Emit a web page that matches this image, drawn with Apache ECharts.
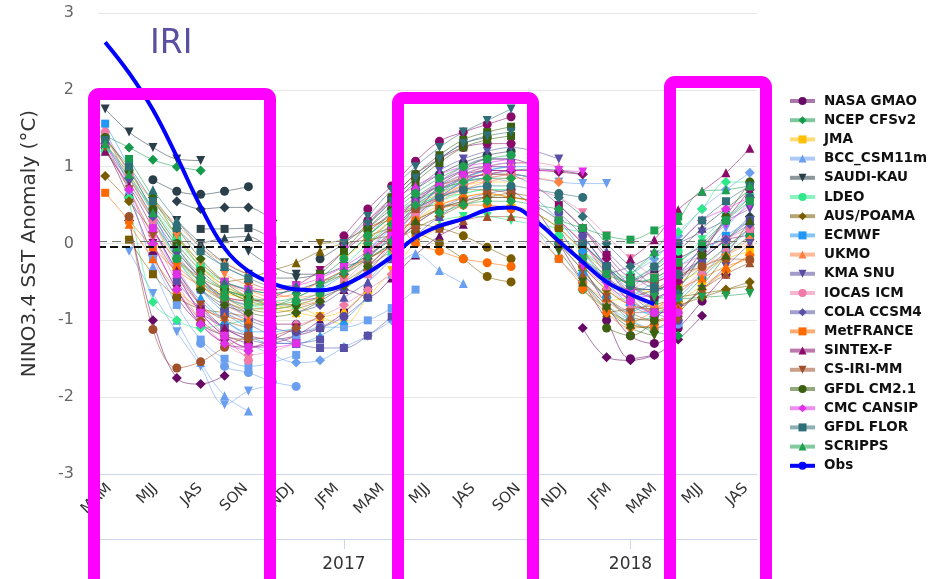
<!DOCTYPE html>
<html>
<head>
<meta charset="utf-8">
<script src="https://cdn.jsdelivr.net/npm/echarts@6/dist/echarts.min.js"></script>
<style>
  html, body { margin: 0; padding: 0; background: #ffffff; }
  #chart { width: 948px; height: 579px; }
</style>
</head>
<body>
<div id="chart"></div>
<script>
// Season labels along the bottom (one per month, every other one printed)
const SEASONS = ['MAM','AMJ','MJJ','JJA','JAS','ASO','SON','OND','NDJ','DJF','JFM','FMA',
                 'MAM','AMJ','MJJ','JJA','JAS','ASO','SON','OND','NDJ','DJF','JFM','FMA',
                 'MAM','AMJ','MJJ','JJA','JAS'];
// Year markers, placed on the monthly forecast columns
const YEAR_TICKS = [10, 22];
const YEAR_LABELS = ['2017', '2018'];
// Reference lines near zero
const REF_LINES = [0.03, -0.04];

// Observed Nino3.4 anomaly, one value per monthly column
const OBS = [2.62, 2.22, 1.74, 1.13, 0.48, -0.06, -0.36, -0.52, -0.60, -0.61, -0.54, -0.38,
             -0.17, 0.08, 0.23, 0.32, 0.44, 0.47, 0.30, 0.03, -0.24, -0.50, -0.66, -0.79];

// Model forecast runs: [first column, value, value, ...]
const NASA_GMAO = [
  [0, 1.25, 0.6, -0.15, -0.7, -1.05, -1.2, -1.3],
  [1, 0.3, -1.0, -1.75, -1.83, -1.72],
  [4, -0.9, -1.1, -1.2, -1.25, -1.2, -1.1, -0.9, -0.6],
  [8, -0.75, -0.7, -0.6, -0.69, -0.45, -0.15, 0.1, 0.25],
  [12, 0.1, 0.4, 0.75, 0.95, 1.1, 1.1, 1.0],
  [17, 0.7, 0.45, 0.0, -0.5, -1.0, -1.5, -1.45],
  [20, -1.1, -1.48, -1.52, -1.45, -1.25, -0.94],
  [23, -0.4, -0.2, -0.05, 0.05, 0.11],
  [3, -0.4, -0.9, -1.2, -1.35, -1.3, -1.2, -1.0],
  [11, -0.3, 0.0, 0.35, 0.6, 0.8, 0.9, 0.9, 0.85],
  [19, 0.2, -0.3, -0.8, -1.2, -1.3, -1.1, -0.75, -0.4]
];
const NCEP_CFSV2 = [
  [0, 1.4, 1.25, 1.09, 1.0, 0.95],
  [1, 1.1, 0.6, 0.1, -0.3, -0.55, -0.7, -0.8],
  [5, -0.6, -0.75, -0.8, -0.7, -0.55, -0.35, -0.15, 0.05],
  [9, -0.45, -0.2, 0.1, 0.35, 0.55, 0.7, 0.8, 0.85],
  [13, 0.45, 0.65, 0.8, 0.9, 0.9, 0.85],
  [18, 0.3, 0.0, -0.35, -0.7, -1.0, -1.15, -1.2],
  [22, -0.9, -0.75, -0.55, -0.3, -0.05, 0.2],
  [2, 0.5, 0.1, -0.25, -0.5, -0.6, -0.65, -0.6],
  [11, 0.1, 0.35, 0.6, 0.8, 0.95, 1.0, 1.0],
  [20, -0.6, -0.85, -1.0, -0.95, -0.75, -0.45, -0.15, 0.1]
];
const JMA = [
  [0, 1.4, 0.85, 0.3, -0.2, -0.5, -0.65, -0.7],
  [4, -0.3, -0.6, -0.75, -0.85, -0.9, -0.95, -0.87, -0.6],
  [8, -0.8, -0.95, -1.05, -0.7, -0.35, 0.0, 0.2, 0.3],
  [12, 0.0, 0.3, 0.5, 0.6, 0.65, 0.6, 0.55],
  [17, 0.5, 0.4, 0.2, -0.1, -0.35, -0.55, -0.65],
  [21, -0.75, -0.7, -0.6, -0.5, -0.35, -0.2, -0.1],
  [2, 0.6, 0.1, -0.3, -0.55, -0.7, -0.8, -0.85],
  [10, -0.2, 0.05, 0.3, 0.5, 0.65, 0.75, 0.8, 0.8],
  [20, -0.3, -0.6, -0.8, -0.85, -0.75, -0.55, -0.35, -0.15]
];
const BCC_CSM11M = [
  [0, 1.5, 0.7, -0.3, -1.0, -1.55, -1.98, -2.18],
  [1, -0.1, -0.65, -1.15, -1.6, -2.1, -1.92, -1.85],
  [4, -1.3, -1.6, -1.68, -1.8, -1.86],
  [6, -1.3, -1.45, -1.55, -1.52, -1.35, -1.2, -1.0],
  [8, -1.2, -1.09, -1.09, -1.0, -0.84, -0.6],
  [12, -0.4, -0.13, -0.35, -0.52],
  [14, 0.6, 0.8, 0.9, 0.9, 0.85, 0.8, 0.78, 0.78],
  [18, 0.2, -0.2, -0.5, -0.8, -1.0, -1.1, -1.05],
  [21, -0.6, -0.4, -0.2, 0.1, 0.45, 0.7, 0.92],
  [2, -0.2, -0.8, -1.25, -1.5, -1.6, -1.55, -1.45],
  [11, -0.5, -0.1, 0.3, 0.6, 0.8, 0.85, 0.8],
  [20, 0.1, -0.3, -0.6, -0.7, -0.5, -0.2, 0.2, 0.55]
];
const SAUDI_KAU = [
  [0, 1.75, 1.45, 1.25, 1.1, 1.08],
  [2, 0.83, 0.68, 0.64, 0.68, 0.74],
  [3, 0.55, 0.45, 0.47, 0.47, 0.3],
  [4, 0.19, 0.19, 0.2, 0.05],
  [4, 0.0, 0.07, 0.09, -0.1],
  [6, -0.1, -0.3, -0.4, -0.4, -0.3, -0.2, 0.0, 0.25],
  [9, -0.2, 0.0, 0.25, 0.55, 0.85, 1.1, 1.3, 1.38],
  [13, 0.6, 0.75, 0.85, 0.9, 0.95, 0.97, 0.95, 0.9],
  [18, 0.5, 0.3, 0.0, -0.3, -0.55, -0.7],
  [22, -0.5, -0.35, -0.1, 0.2, 0.45, 0.7],
  [3, 0.3, 0.0, -0.25, -0.4, -0.45, -0.45, -0.4],
  [11, 0.2, 0.45, 0.7, 0.9, 1.05, 1.15, 1.2],
  [20, -0.2, -0.45, -0.6, -0.6, -0.45, -0.2, 0.05, 0.35]
];
const LDEO = [
  [0, 1.2, 0.85, 0.45, 0.05, -0.3, -0.5, -0.6],
  [1, 0.6, -0.76, -1.0, -1.1, -1.05, -1.0],
  [6, -0.8, -0.85, -0.8, -0.7, -0.5, -0.3, -0.1, 0.1],
  [10, -0.3, 0.0, 0.3, 0.5, 0.6, 0.65, 0.7, 0.7],
  [14, 0.3, 0.35, 0.35, 0.3, 0.25, 0.2, 0.15],
  [19, 0.1, -0.1, -0.3, -0.45, -0.3, -0.1],
  [22, -0.4, -0.15, 0.15, 0.45, 0.8, 0.8],
  [2, 0.3, -0.2, -0.55, -0.75, -0.85, -0.85, -0.8],
  [11, 0.0, 0.2, 0.4, 0.55, 0.65, 0.7, 0.7],
  [20, -0.1, -0.35, -0.5, -0.45, -0.25, 0.05, 0.35, 0.6]
];
const AUS_POAMA = [
  [0, 0.88, 0.55, 0.15, -0.2, -0.45, -0.6, -0.7],
  [1, 0.05, -0.4, -0.7, -0.85, -0.9, -0.95],
  [5, -0.5, -0.45, -0.35, -0.25, -0.1, 0.0, 0.05, 0.1],
  [9, 0.0, 0.05, 0.2, 0.35, 0.45, 0.5, 0.5],
  [13, 0.15, 0.0, -0.2, -0.43, -0.5],
  [13, 0.2, 0.35, 0.5, 0.6, 0.65, 0.6],
  [18, 0.4, 0.2, -0.1, -0.45, -0.75, -0.9],
  [21, -0.9, -0.85, -0.8, -0.7, -0.65, -0.6, -0.55],
  [3, -0.1, -0.45, -0.7, -0.85, -0.9, -0.85, -0.75],
  [11, 0.1, 0.2, 0.25, 0.2, 0.1, -0.05, -0.2],
  [20, -0.3, -0.6, -0.8, -0.85, -0.8, -0.7, -0.6, -0.5]
];
const ECMWF = [
  [0, 1.56, 1.0, 0.4, -0.2, -0.6, -0.9, -1.1],
  [4, -0.7, -1.0, -1.2, -1.3, -1.3, -1.2, -1.0, -0.7],
  [9, -0.6, -0.4, -0.1, 0.2, 0.45, 0.6, 0.7, 0.75],
  [13, 0.5, 0.7, 0.85, 0.95, 1.0, 1.0],
  [18, 0.6, 0.3, -0.1, -0.5, -0.8, -0.95],
  [22, -0.7, -0.5, -0.3, -0.1, 0.1, 0.3],
  [2, 0.2, -0.35, -0.75, -1.0, -1.15, -1.15, -1.1],
  [11, -0.2, 0.1, 0.4, 0.65, 0.85, 0.95, 1.0],
  [20, -0.4, -0.7, -0.9, -0.9, -0.7, -0.4, -0.1, 0.2]
];
const UKMO = [
  [0, 1.35, 0.95, 0.55, 0.25, -0.05, -0.25, -0.4],
  [5, -0.4, -0.55, -0.65, -0.7, -0.65, -0.5, -0.3, -0.1],
  [10, -0.4, -0.15, 0.15, 0.4, 0.6, 0.75, 0.85, 0.9],
  [14, 0.55, 0.7, 0.8, 0.85, 0.85, 0.8],
  [19, 0.3, 0.0, -0.35, -0.65, -0.85, -0.9],
  [23, -0.6, -0.45, -0.3, -0.15, 0.0],
  [3, 0.1, -0.25, -0.5, -0.65, -0.75, -0.8, -0.75],
  [11, 0.05, 0.3, 0.55, 0.75, 0.85, 0.9, 0.9],
  [20, -0.5, -0.75, -0.9, -0.85, -0.65, -0.4, -0.15, 0.05]
];
const KMA_SNU = [
  [0, 1.3, 0.8, 0.3, -0.15, -0.5, -0.75, -0.9],
  [4, -0.6, -0.85, -1.0, -1.1, -1.15, -1.1, -0.95, -0.7],
  [8, -0.9, -0.8, -0.6, -0.35, -0.05, 0.25, 0.45, 0.6],
  [12, 0.3, 0.55, 0.75, 0.9, 1.0, 1.05, 1.05],
  [17, 0.9, 0.75, 0.5, 0.2, -0.1, -0.4, -0.6],
  [21, -0.4, -0.3, -0.15, 0.0, 0.15, 0.3, 0.45],
  [2, 0.4, -0.05, -0.45, -0.75, -0.95, -1.05, -1.05],
  [11, -0.1, 0.15, 0.45, 0.7, 0.85, 0.95, 0.95],
  [20, 0.0, -0.3, -0.55, -0.6, -0.45, -0.2, 0.05, 0.3]
];
const IOCAS_ICM = [
  [0, 1.45, 0.9, 0.3, -0.3, -0.8, -1.2, -1.52],
  [5, -0.8, -0.95, -1.05, -1.05, -0.95, -0.8, -0.6, -0.4],
  [10, -0.5, -0.2, 0.1, 0.4, 0.6, 0.75, 0.85, 0.9],
  [14, 0.7, 0.9, 1.0, 1.05, 1.05, 1.0],
  [18, 0.7, 0.6, 0.4, 0.1, -0.2, -0.45],
  [22, -0.6, -0.45, -0.3, -0.15, 0.05, 0.2],
  [2, 0.1, -0.5, -1.0, -1.3, -1.45, -1.4, -1.3],
  [11, -0.4, 0.0, 0.35, 0.65, 0.85, 0.95, 0.95],
  [20, -0.2, -0.55, -0.8, -0.85, -0.65, -0.35, -0.05, 0.2]
];
const COLA_CCSM4 = [
  [0, 1.3, 0.85, 0.35, -0.1, -0.45, -0.7, -0.8],
  [5, -0.9, -1.05, -1.2, -1.3, -1.36, -1.36, -1.2, -0.95],
  [10, -0.7, -0.5, -0.2, 0.1, 0.35, 0.55, 0.65, 0.7],
  [13, 0.7, 0.95, 1.1, 1.2, 1.25, 1.2, 1.1],
  [19, 0.4, 0.1, -0.3, -0.65, -0.9, -1.0],
  [22, -0.7, -0.6, -0.4, -0.2, 0.05, 0.25],
  [3, -0.5, -0.85, -1.1, -1.25, -1.3, -1.3, -1.25],
  [11, -0.2, 0.15, 0.5, 0.8, 1.0, 1.1, 1.1],
  [20, 0.1, -0.3, -0.7, -0.9, -0.85, -0.6, -0.3, 0.0]
];
const MET_FRANCE = [
  [0, 0.66, 0.3, -0.05, -0.35, -0.55, -0.7, -0.75],
  [1, 0.25, -0.2, -0.6, -0.85, -0.95, -1.0],
  [6, -0.6, -0.7, -0.65, -0.5, -0.35, -0.2, -0.05, 0.05],
  [11, 0.2, 0.3, 0.0, -0.1, -0.2, -0.25, -0.3],
  [14, 0.5, 0.6, 0.65, 0.6, 0.55],
  [18, 0.1, -0.2, -0.55, -0.85, -1.05, -1.09],
  [22, -1.05, -0.87, -0.6, -0.45, -0.3, -0.2],
  [3, -0.3, -0.55, -0.75, -0.85, -0.85, -0.8, -0.7],
  [11, -0.1, 0.1, 0.3, 0.45, 0.5, 0.5, 0.45],
  [20, -0.6, -0.9, -1.1, -1.05, -0.85, -0.6, -0.35, -0.15]
];
const SINTEX_F = [
  [0, 1.2, 0.75, 0.2, -0.35, -0.8, -1.1, -1.25],
  [5, -0.7, -0.75, -0.7, -0.55, -0.35, -0.1, 0.15, 0.4],
  [10, 0.1, 0.45, 0.75, 1.07, 1.33, 1.45, 1.55, 1.65],
  [15, 0.9, 0.95, 0.95, 0.95, 0.93, 0.9],
  [19, 0.5, 0.2, -0.15, -0.45, -0.5, -0.3],
  [22, -0.2, 0.05, 0.44, 0.68, 0.92, 1.24],
  [2, 0.0, -0.6, -1.05, -1.3, -1.35, -1.25, -1.1],
  [11, 0.3, 0.6, 0.9, 1.1, 1.25, 1.3, 1.3],
  [20, 0.2, -0.2, -0.55, -0.7, -0.5, -0.1, 0.3, 0.7]
];
const CS_IRI_MM = [
  [0, 1.25, 0.7, 0.1, -0.4, -0.8, -1.0, -1.1],
  [1, 0.35, -1.12, -1.62, -1.54, -1.35, -1.2],
  [6, -0.5, -0.6, -0.6, -0.5, -0.4, -0.2, 0.0, 0.2],
  [11, -0.3, 0.0, 0.25, 0.45, 0.55, 0.6, 0.6],
  [14, 0.2, 0.3, 0.35, 0.35, 0.3],
  [19, 0.0, -0.35, -0.7, -0.9, -1.0, -1.0],
  [23, -0.5, -0.4, -0.3, -0.2, -0.21],
  [3, -0.6, -1.0, -1.2, -1.25, -1.2, -1.1, -0.95],
  [11, 0.0, 0.2, 0.45, 0.6, 0.7, 0.7, 0.65],
  [20, -0.4, -0.7, -0.95, -1.0, -0.85, -0.6, -0.4, -0.25]
];
const GFDL_CM21 = [
  [0, 1.38, 0.95, 0.45, 0.0, -0.35, -0.6, -0.75],
  [4, -0.6, -0.8, -0.9, -0.95, -0.9, -0.75, -0.55, -0.3],
  [9, -0.4, -0.1, 0.25, 0.6, 0.9, 1.15, 1.35, 1.45, 1.52],
  [13, 0.3, 0.45, 0.55, 0.6, 0.6, 0.55],
  [18, 0.2, -0.1, -0.5, -0.85, -1.1, -1.2],
  [21, -1.1, -1.2, -1.0, -0.6, -0.15, 0.35, 0.8],
  [2, 0.6, 0.2, -0.2, -0.5, -0.7, -0.8, -0.8],
  [11, 0.2, 0.5, 0.8, 1.05, 1.25, 1.35, 1.4],
  [20, -0.5, -0.8, -1.05, -1.1, -0.9, -0.55, -0.15, 0.3]
];
const CMC_CANSIP = [
  [0, 1.3, 0.7, 0.0, -0.6, -1.05, -1.3, -1.4],
  [5, -0.5, -0.6, -0.6, -0.55, -0.45, -0.3, -0.1, 0.1],
  [10, 0.0, 0.3, 0.55, 0.75, 0.9, 1.0, 1.05, 1.1],
  [15, 0.85, 0.9, 0.95, 0.95, 0.95, 0.93],
  [19, 0.3, 0.0, -0.4, -0.75, -0.9, -0.9],
  [22, -0.6, -0.3, 0.0, 0.3, 0.45, 0.6],
  [2, 0.2, -0.4, -0.9, -1.2, -1.35, -1.35, -1.3],
  [11, -0.1, 0.25, 0.55, 0.8, 0.95, 1.0, 1.0],
  [20, -0.3, -0.55, -0.7, -0.65, -0.4, -0.05, 0.25, 0.5]
];
const GFDL_FLOR = [
  [0, 1.35, 1.0, 0.55, 0.2, -0.1, -0.3, -0.45],
  [5, -0.5, -0.6, -0.65, -0.6, -0.5, -0.35, -0.15, 0.05],
  [10, 0.0, 0.35, 0.7, 1.0, 1.25, 1.45, 1.6, 1.75],
  [14, 0.6, 0.7, 0.75, 0.75, 0.7, 0.65, 0.6],
  [19, 0.6, 0.35, 0.0, -0.3, -0.55, -0.65],
  [22, -0.5, -0.3, 0.0, 0.3, 0.55, 0.75],
  [2, 0.7, 0.3, -0.05, -0.3, -0.45, -0.55, -0.55],
  [11, 0.25, 0.55, 0.85, 1.1, 1.3, 1.4, 1.45],
  [20, 0.0, -0.3, -0.55, -0.6, -0.4, -0.05, 0.3, 0.6]
];
const SCRIPPS = [
  [0, 1.3, 0.9, 0.4, -0.05, -0.4, -0.6, -0.7],
  [5, -0.6, -0.7, -0.75, -0.7, -0.55, -0.4, -0.2, 0.0],
  [10, -0.2, 0.1, 0.4, 0.65, 0.85, 1.0, 1.1, 1.15],
  [14, 0.4, 0.5, 0.55, 0.55, 0.5, 0.45],
  [19, 0.3, 0.2, 0.1, 0.05, 0.17, 0.35],
  [22, -0.4, -0.1, 0.3, 0.68, 0.7, 0.75],
  [23, -0.7, -0.72, -0.7, -0.68, -0.65],
  [3, -0.2, -0.5, -0.7, -0.8, -0.8, -0.75, -0.65],
  [11, 0.0, 0.25, 0.5, 0.7, 0.8, 0.85, 0.85],
  [20, -0.2, -0.4, -0.5, -0.45, -0.25, 0.0, 0.3, 0.55]
];

const MODEL_NAMES = ['NASA GMAO','NCEP CFSv2','JMA','BCC_CSM11m','SAUDI-KAU','LDEO','AUS/POAMA',
  'ECMWF','UKMO','KMA SNU','IOCAS ICM','COLA CCSM4','MetFRANCE','SINTEX-F','CS-IRI-MM',
  'GFDL CM2.1','CMC CANSIP','GFDL FLOR','SCRIPPS'];
const MODEL_RUNS = [NASA_GMAO, NCEP_CFSV2, JMA, BCC_CSM11M, SAUDI_KAU, LDEO, AUS_POAMA,
  ECMWF, UKMO, KMA_SNU, IOCAS_ICM, COLA_CCSM4, MET_FRANCE, SINTEX_F, CS_IRI_MM,
  GFDL_CM21, CMC_CANSIP, GFDL_FLOR, SCRIPPS];
const MODEL_COLORS = ['#660a66','#159a4c','#ffc000','#6a9ff0','#2b3f4a','#2ee88a','#7a5c00',
  '#2196f3','#ff8040','#574ba0','#f07aa8','#5850a8','#ff6a00','#8a0a6a','#a0502a',
  '#3a6010','#e030e8','#2e6f78','#1ea050'];

// marker cycle: circle, diamond, square, triangle, triangle pointing down
const MARKERS = [
  { symbol: 'circle', rotate: 0, size: 9 },
  { symbol: 'diamond', rotate: 0, size: 10 },
  { symbol: 'rect', rotate: 0, size: 8 },
  { symbol: 'triangle', rotate: 0, size: 9 },
  { symbol: 'triangle', rotate: 180, size: 9 }
];

const FONT = 'DejaVu Sans';
const series = [];

// reference dashed lines at zero
series.push({
  type: 'line', name: 'zero', xAxisIndex: 0, data: [], z: 1, silent: true,
  markLine: {
    silent: true, symbol: 'none', label: { show: false },
    data: [
      { yAxis: REF_LINES[0], lineStyle: { type: [9, 5], color: '#777777', width: 1.2 } },
      { yAxis: REF_LINES[1], lineStyle: { type: [8, 4], color: '#111111', width: 2 } }
    ]
  }
});

MODEL_RUNS.forEach((runs, i) => {
  runs.forEach((run, j) => {
    const start = run[0];
    const pts = run.slice(1).map((v, n) => [start + n, v]);
    const mk = MARKERS[(i + j) % MARKERS.length];
    series.push({
      type: 'line',
      name: MODEL_NAMES[i],
      xAxisIndex: 0,
      data: pts,
      smooth: 0.35,
      symbol: mk.symbol,
      symbolRotate: mk.rotate,
      symbolSize: mk.size,
      showSymbol: true,
      z: 3,
      lineStyle: { width: 1, color: MODEL_COLORS[i], opacity: 0.55 },
      itemStyle: { color: MODEL_COLORS[i], opacity: 1 },
      emphasis: { disabled: true }
    });
  });
});

series.push({
  type: 'line', name: 'Obs', xAxisIndex: 0,
  data: OBS.map((v, k) => [k, v]),
  smooth: 0.4, symbol: 'none', z: 6,
  lineStyle: { width: 4, color: '#0000ff', opacity: 1 },
  itemStyle: { color: '#0000ff' }
});

const chart = echarts.init(document.getElementById('chart'));
chart.setOption({
  animation: false,
  backgroundColor: '#ffffff',
  textStyle: { fontFamily: FONT },
  grid: { left: 98, right: 191, top: 13, bottom: 105, containLabel: false },
  legend: {
    orient: 'vertical', left: 788, top: 94, padding: 0,
    itemWidth: 25, itemHeight: 10, itemGap: 5.2,
    data: MODEL_NAMES.concat(['Obs']),
    lineStyle: { width: 4 },
    textStyle: { fontFamily: FONT, fontWeight: 'bold', fontSize: 13.5, color: '#111', lineHeight: 14, padding: [0, 0, 0, 4] },
    selectedMode: false
  },
  xAxis: [
    { type: 'value', min: -0.3, max: 27.3, show: false },
    {
      type: 'category', data: SEASONS, boundaryGap: true, position: 'bottom',
      axisLine: { lineStyle: { color: '#ccd6eb', width: 1 } },
      axisTick: { show: false },
      splitLine: { show: false },
      axisLabel: { interval: 1, rotate: 45, color: '#333', fontSize: 15, fontFamily: FONT, margin: 12 }
    },
    {
      type: 'value', min: -0.3, max: 27.3, position: 'bottom', offset: 65,
      axisLine: { show: true, lineStyle: { color: '#ccd6eb', width: 1 } },
      axisTick: { show: true, customValues: YEAR_TICKS, length: 10, lineStyle: { color: '#ccd6eb' } },
      splitLine: { show: false },
      axisLabel: {
        customValues: YEAR_TICKS,
        formatter: v => YEAR_LABELS[YEAR_TICKS.indexOf(v)] || '',
        color: '#333', fontSize: 17, fontFamily: FONT, margin: 17
      }
    }
  ],
  yAxis: {
    type: 'value', min: -3, max: 3, interval: 1,
    axisLine: { show: false }, axisTick: { show: false },
    splitLine: { lineStyle: { color: '#e6e6e6', width: 1 } },
    axisLabel: { color: '#666', fontSize: 16, fontFamily: FONT, margin: 24 },
    name: 'NINO3.4 SST Anomaly (°C)', nameLocation: 'middle', nameRotate: 90, nameGap: 58,
    nameTextStyle: { fontSize: 20, color: '#333', fontFamily: FONT }
  },
  series: series,
  graphic: [
    { type: 'text', left: 150, top: 28, z: 50,
      style: { text: 'IRI', font: '33px "DejaVu Sans"', fill: '#5b50a0' } },
    { type: 'rect', z: 100, shape: { x: 94, y: 94, width: 176, height: 600, r: 5 },
      style: { fill: 'none', stroke: '#ff00ff', lineWidth: 12 } },
    { type: 'rect', z: 100, shape: { x: 398, y: 98, width: 135, height: 600, r: 5 },
      style: { fill: 'none', stroke: '#ff00ff', lineWidth: 12 } },
    { type: 'rect', z: 100, shape: { x: 670, y: 82, width: 96, height: 600, r: 5 },
      style: { fill: 'none', stroke: '#ff00ff', lineWidth: 12 } }
  ]
});
</script>
</body>
</html>
